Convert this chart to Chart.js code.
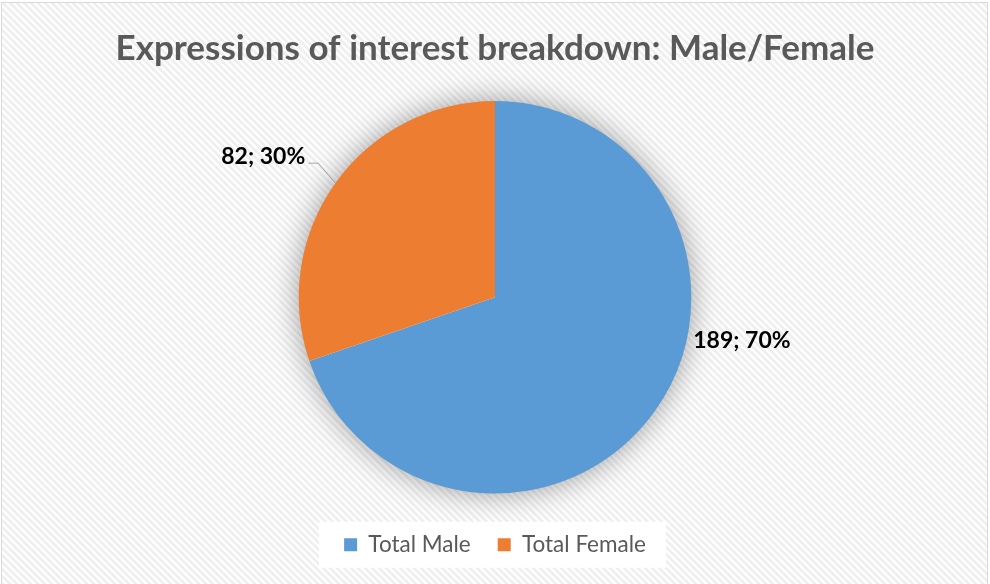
<!DOCTYPE html>
<html><head><meta charset="utf-8">
<script src="https://cdn.jsdelivr.net/npm/chart.js@4.4.1/dist/chart.umd.min.js"></script>
<style>html,body{margin:0;padding:0;background:#fff;} canvas{display:block;}</style>
</head><body>
<canvas id="c" width="990" height="584"></canvas>
<script>
const categories = ['Total Male', 'Total Female'];
const counts = [189, 82];
const titleText = 'Expressions of interest breakdown: Male/Female';
const colors = ['#5B9BD5', '#ED7D31'];

const total = counts.reduce((a, b) => a + b, 0);
const labelTexts = counts.map(v => v + '; ' + Math.round(v / total * 100) + '%');

function makePattern(ctx) {
  const n = 7;
  const p = document.createElement('canvas');
  p.width = n; p.height = n;
  const g = p.getContext('2d');
  g.fillStyle = '#ffffff'; g.fillRect(0, 0, n, n);
  g.strokeStyle = '#efefef'; g.lineWidth = 2.8;
  g.beginPath();
  for (const k of [-n, 0, n]) { g.moveTo(-2, -2 + k); g.lineTo(n + 2, n + 2 + k); }
  g.stroke();
  return ctx.createPattern(p, 'repeat');
}

const decor = {
  id: 'decor',
  beforeDraw(chart) {
    const {ctx, width, height} = chart;
    ctx.save();
    ctx.fillStyle = '#ffffff'; ctx.fillRect(0, 0, width, height);
    ctx.fillStyle = makePattern(ctx);
    ctx.fillRect(2, 3, width - 5, height);
    ctx.strokeStyle = '#d9d9d9'; ctx.lineWidth = 1;
    ctx.strokeRect(1.5, 2.5, width - 4, height + 10);
    const lg = chart.legend;
    if (lg && lg.lineWidths) {
      const pad = lg.options.labels.padding;
      const fs = lg.options.labels.font.size;
      const rowW = lg.lineWidths[0] - pad;
      const cx = (lg.left + lg.right) / 2;
      const cy = lg.top + pad + fs / 2;
      ctx.fillStyle = '#ffffff';
      ctx.fillRect(cx - rowW / 2 - 25, cy - 23, rowW + 45, 46);
    }
    ctx.restore();
  },
  beforeDatasetsDraw(chart) {
    const {ctx} = chart;
    const arc = chart.getDatasetMeta(0).data[0];
    ctx.save();
    ctx.shadowColor = 'rgba(0,0,0,0.4)';
    ctx.shadowBlur = 30;
    ctx.fillStyle = '#ffffff';
    ctx.beginPath();
    ctx.arc(arc.x, arc.y, arc.outerRadius - 1, 0, Math.PI * 2);
    ctx.fill();
    ctx.restore();
  },
  afterDatasetsDraw(chart) {
    const {ctx} = chart;
    const arcs = chart.getDatasetMeta(0).data;
    ctx.save();
    ctx.font = 'bold 23px Lato';
    ctx.fillStyle = '#000000';
    ctx.textBaseline = 'middle';
    {
      const a = arcs[0];
      ctx.textAlign = 'left';
      ctx.fillText(labelTexts[0], a.x + a.outerRadius + 2, a.y + a.outerRadius * 0.22);
    }
    {
      const a = arcs[1];
      const mid = (a.startAngle + a.endAngle) / 2;
      const ex = a.x + a.outerRadius * Math.cos(mid);
      const ey = a.y + a.outerRadius * Math.sin(mid);
      const bx = ex - 17, by = ey - 20;
      const tx = bx - 10;
      ctx.strokeStyle = '#a6a6a6'; ctx.lineWidth = 1;
      ctx.beginPath();
      ctx.moveTo(ex, ey); ctx.lineTo(bx, by); ctx.lineTo(tx, by);
      ctx.stroke();
      ctx.textAlign = 'right';
      ctx.fillText(labelTexts[1], tx - 3, by - 7);
    }
    ctx.restore();
  }
};

new Chart(document.getElementById('c').getContext('2d'), {
  type: 'pie',
  data: {
    labels: categories,
    datasets: [{ data: counts, backgroundColor: colors, borderWidth: 0, hoverOffset: 0 }]
  },
  options: {
    responsive: false,
    animation: false,
    events: [],
    radius: '93.8%',
    layout: { padding: { top: 0, bottom: 18, left: 0, right: 0 } },
    plugins: {
      title: {
        display: true, text: titleText, color: '#595959',
        font: { family: 'Lato', size: 35, weight: 'bold' },
        padding: { top: 28, bottom: 18 }
      },
      legend: {
        position: 'bottom',
        labels: {
          boxWidth: 13, boxHeight: 13, padding: 27, color: '#595959',
          font: { family: 'Lato', size: 22.5 }
        }
      },
      tooltip: { enabled: false }
    }
  },
  plugins: [decor]
});
</script>
</body></html>
